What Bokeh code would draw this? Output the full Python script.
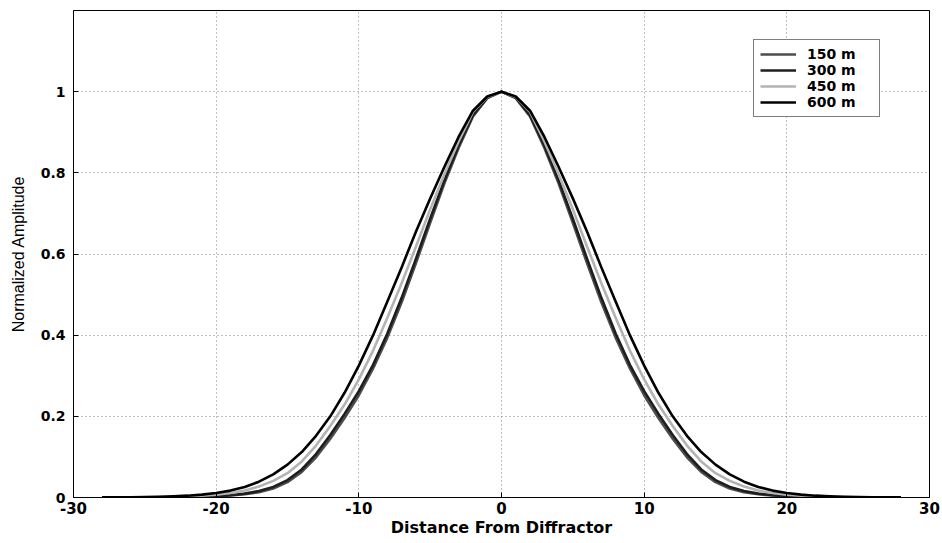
from bokeh.plotting import figure
from bokeh.models import Legend, LegendItem, FixedTicker, CustomJSTickFormatter, Range1d
from bokeh.embed import file_html
from bokeh.resources import INLINE

# ---- data ----
distance = list(range(-28, 29))

amp_150 = [0.0, 0.0, 0.0, 0.0001, 0.0003, 0.0005, 0.0009, 0.0016, 0.0028, 0.0048,
           0.008, 0.013, 0.022, 0.038, 0.063, 0.099, 0.145, 0.196, 0.252, 0.318,
           0.394, 0.481, 0.577, 0.677, 0.774, 0.862, 0.939, 0.984,
           1.0,
           0.984, 0.939, 0.862, 0.774, 0.677, 0.577, 0.481, 0.394, 0.318, 0.252,
           0.196, 0.145, 0.099, 0.063, 0.038, 0.022, 0.013, 0.008, 0.0048, 0.0028,
           0.0016, 0.0009, 0.0005, 0.0003, 0.0001, 0.0, 0.0, 0.0]

amp_300 = [0.0, 0.0, 0.0001, 0.0002, 0.0004, 0.0007, 0.0012, 0.002, 0.0034, 0.0057,
           0.0095, 0.016, 0.026, 0.043, 0.069, 0.107, 0.154, 0.206, 0.262, 0.327,
           0.404, 0.492, 0.588, 0.687, 0.782, 0.868, 0.942, 0.985,
           1.0,
           0.985, 0.942, 0.868, 0.782, 0.687, 0.588, 0.492, 0.404, 0.327, 0.262,
           0.206, 0.154, 0.107, 0.069, 0.043, 0.026, 0.016, 0.0095, 0.0057, 0.0034,
           0.002, 0.0012, 0.0007, 0.0004, 0.0002, 0.0001, 0.0, 0.0]

amp_450 = [0.0001, 0.0002, 0.0003, 0.0006, 0.001, 0.0017, 0.0028, 0.0045, 0.007, 0.011,
           0.017, 0.027, 0.041, 0.060, 0.089, 0.128, 0.176, 0.229, 0.291, 0.362,
           0.443, 0.528, 0.618, 0.710, 0.797, 0.878, 0.950, 0.987,
           1.0,
           0.987, 0.950, 0.878, 0.797, 0.710, 0.618, 0.528, 0.443, 0.362, 0.291,
           0.229, 0.176, 0.128, 0.089, 0.060, 0.041, 0.027, 0.017, 0.011, 0.007,
           0.0045, 0.0028, 0.0017, 0.001, 0.0006, 0.0003, 0.0002, 0.0001]

amp_600 = [0.0002, 0.0004, 0.0008, 0.0013, 0.002, 0.003, 0.0045, 0.007, 0.011, 0.017,
           0.026, 0.039, 0.057, 0.081, 0.112, 0.152, 0.200, 0.258, 0.325, 0.400,
           0.483, 0.567, 0.655, 0.737, 0.815, 0.889, 0.953, 0.988,
           1.0,
           0.988, 0.953, 0.889, 0.815, 0.737, 0.655, 0.567, 0.483, 0.400, 0.325,
           0.258, 0.200, 0.152, 0.112, 0.081, 0.057, 0.039, 0.026, 0.017, 0.011,
           0.007, 0.0045, 0.003, 0.002, 0.0013, 0.0008, 0.0004, 0.0002]

series_labels = ["150 m", "300 m", "450 m", "600 m"]
series_values = [amp_150, amp_300, amp_450, amp_600]
series_colors = ["#4d4d4d", "#1e1e1e", "#b3b3b3", "#000000"]

x_ticks = [-30, -20, -10, 0, 10, 20, 30]
y_ticks = [0, 0.2, 0.4, 0.6, 0.8, 1.0]

# ---- figure ----
p = figure(width=942, height=543, output_backend="svg", toolbar_location=None,
           x_range=Range1d(-30, 30), y_range=Range1d(0, 1.2),
           min_border_left=73, min_border_right=13, min_border_top=10,
           min_border_bottom=46, background_fill_color="white",
           border_fill_color="white")

p.outline_line_color = "black"
p.outline_line_width = 1
p.outline_line_alpha = 1.0

items = []
for lab, vals, col in zip(series_labels, series_values, series_colors):
    r = p.line(distance, vals, line_color=col, line_width=2.6, line_join="round")
    items.append(LegendItem(label=lab, renderers=[r]))

legend = Legend(items=items, location=(680, 380),
                border_line_color="black", border_line_width=1,
                background_fill_color="white", background_fill_alpha=1.0,
                label_text_font="DejaVu Sans", label_text_font_style="bold",
                label_text_font_size="14px", label_text_color="black",
                label_height=16, glyph_height=16,
                glyph_width=36, label_width=66, label_standoff=11,
                padding=6, spacing=0, margin=0)
p.add_layout(legend, "center")

# axes
for ax in (p.xaxis[0], p.yaxis[0]):
    ax.major_tick_in = 5
    ax.major_tick_out = 0
    ax.minor_tick_line_color = None
    ax.axis_line_color = "black"
    ax.major_tick_line_color = "black"
    ax.major_label_text_font = "DejaVu Sans"
    ax.major_label_text_font_style = "bold"
    ax.major_label_text_color = "black"

p.xaxis.major_label_text_font_size = "15px"
p.yaxis.major_label_text_font_size = "14px"

p.xaxis.ticker = FixedTicker(ticks=x_ticks)
p.yaxis.ticker = FixedTicker(ticks=y_ticks)
p.xaxis.formatter = CustomJSTickFormatter(code="return Math.round(tick).toString();")
p.yaxis.formatter = CustomJSTickFormatter(code="return Number(tick.toFixed(2)).toString();")

p.xaxis.axis_label = "Distance From Diffractor"
p.xaxis.axis_label_text_font = "DejaVu Sans"
p.xaxis.axis_label_text_font_style = "bold"
p.xaxis.axis_label_text_font_size = "16px"
p.xaxis.axis_label_text_color = "black"
p.xaxis.axis_label_standoff = 1
p.xaxis.major_label_standoff = 4

p.yaxis.axis_label = "Normalized Amplitude"
p.yaxis.axis_label_text_font = "Liberation Sans"
p.yaxis.axis_label_text_font_style = "normal"
p.yaxis.axis_label_text_font_size = "16px"
p.yaxis.axis_label_text_color = "black"
p.yaxis.axis_label_standoff = 11
p.yaxis.major_label_standoff = 8

# grid
p.xgrid.ticker = FixedTicker(ticks=x_ticks)
p.ygrid.ticker = FixedTicker(ticks=y_ticks)
for g in (p.xgrid[0], p.ygrid[0]):
    g.grid_line_color = "#7f7f7f"
    g.grid_line_dash = "1 3"
    g.grid_line_width = 1

open("out.html", "w").write(file_html(p, INLINE))
